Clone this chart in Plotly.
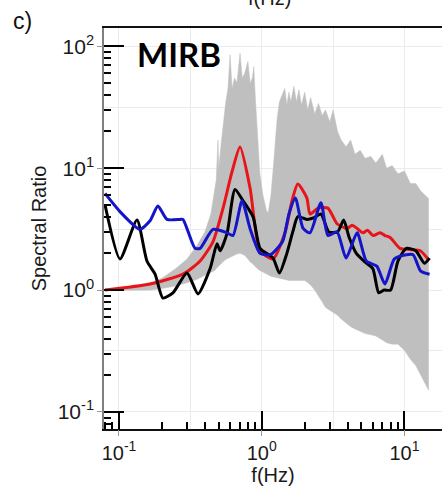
import plotly.graph_objects as go

# ---- data ----
red_f = [0.08, 0.165, 0.281, 0.37, 0.456, 0.536, 0.62, 0.705, 0.828, 0.973, 1.2, 1.46, 1.63, 1.79,
         2.07, 2.18, 2.48, 2.91, 3.37, 3.96, 4.3, 4.66, 5.13, 5.5, 6.03, 6.75, 7.3, 7.93, 9.31, 10.9, 12.9, 14.6]
red_y = [1.0, 1.12, 1.35, 1.73, 2.5, 4.7, 9.4, 14.9, 6.9, 2.1, 1.8, 3.0, 5.4, 7.4,
         5.7, 4.2, 4.7, 4.7, 3.5, 3.2, 3.4, 3.2, 2.95, 3.1, 2.8, 2.95, 2.8, 2.7, 2.2, 2.15, 2.1, 1.8]

black_f = [0.0798, 0.1016, 0.1337, 0.157, 0.179, 0.203, 0.239, 0.2995, 0.358, 0.435, 0.486, 0.511, 0.571,
           0.65, 0.74, 0.869, 0.973, 1.2, 1.33, 1.5, 1.65, 1.79, 2.07, 2.3, 2.6, 2.95, 3.4, 3.75, 4.1, 4.6,
           5.2, 6.0, 6.6, 7.2, 8.0, 9.0, 10.3, 12.0, 13.8, 15.0]
black_y = [5.0, 1.8, 3.75, 1.73, 1.35, 0.86, 0.95, 1.38, 0.93, 1.5, 2.4, 2.1, 2.9,
           6.7, 5.4, 4.0, 2.2, 1.83, 1.38, 2.0, 3.0, 4.0, 3.8, 3.9, 4.2, 3.0, 3.0, 3.75, 2.7, 2.0,
           1.73, 1.5, 0.95, 1.0, 1.0, 1.73, 2.2, 2.1, 1.66, 1.83]

blue_f = [0.0798, 0.1016, 0.140, 0.165, 0.1875, 0.217, 0.2676, 0.281, 0.341, 0.37, 0.456, 0.571, 0.629,
          0.728, 0.828, 0.973, 1.15, 1.4, 1.55, 1.72, 1.95, 2.18, 2.6, 2.91, 3.37, 3.9, 4.66, 5.4, 6.4,
          7.3, 8.5, 10.3, 11.5, 13.0, 15.0]
blue_y = [6.2, 4.4, 3.15, 3.7, 4.9, 3.8, 3.8, 3.8, 2.2, 2.2, 3.15, 2.95, 2.8,
          5.4, 3.2, 2.0, 1.95, 2.5, 4.2, 5.7, 3.2, 2.95, 5.2, 2.8, 3.0, 1.83, 2.95, 1.73, 1.57,
          1.12, 1.8, 1.95, 1.95, 1.43, 1.35]

# gray ensemble envelope (upper and lower bounds of the simulated ratios)
env_f = [0.08, 0.12, 0.165, 0.2, 0.25, 0.3, 0.35, 0.4, 0.44, 0.47, 0.48, 0.494, 0.50, 0.52, 0.54, 0.56,
         0.58, 0.60, 0.62, 0.645, 0.67, 0.705, 0.73, 0.76, 0.80, 0.83, 0.86, 0.88, 0.90, 0.93, 0.97,
         1.02, 1.08, 1.11, 1.16, 1.22, 1.28, 1.33, 1.39, 1.45, 1.5, 1.55, 1.6, 1.68, 1.75, 1.82, 1.9,
         2.0, 2.1, 2.2, 2.35, 2.5, 2.65, 2.8, 3.0, 3.16, 3.4, 3.6, 3.9, 4.2, 4.5, 4.9, 5.3, 5.8, 6.3,
         7.0, 7.5, 8.2, 9.0, 10.0, 11.0, 12.0, 13.0, 14.0, 14.8]
env_hi = [1.02, 1.06, 1.15, 1.25, 1.5, 1.8, 2.3, 3.0, 4.2, 6.5, 8, 17, 10, 16, 24, 35,
          45, 85, 45, 55, 50, 88, 55, 60, 75, 50, 55, 68, 40, 20, 9,
          6, 4.5, 4.3, 6, 12, 25, 35, 40, 45, 33, 42, 35, 47, 35, 44, 33,
          42, 30, 38, 28, 34, 27, 30, 24, 30, 20, 17, 15, 17, 13, 14, 12, 12.5, 11,
          13, 10, 10.5, 9, 9.5, 7.5, 7.5, 6.5, 6, 5.6]
env_lo = [0.99, 0.99, 1.0, 1.03, 1.08, 1.15, 1.22, 1.32, 1.4, 1.45, 1.5, 1.55, 1.6, 1.65, 1.72, 1.78,
          1.82, 1.85, 1.9, 1.95, 1.98, 2.0, 1.97, 1.93, 1.8, 1.7, 1.65, 1.6, 1.55, 1.5, 1.45,
          1.4, 1.35, 1.33, 1.3, 1.28, 1.26, 1.25, 1.23, 1.21, 1.2, 1.2, 1.2, 1.2, 1.2, 1.2, 1.2,
          1.2, 1.15, 1.1, 1.0, 0.9, 0.8, 0.72, 0.68, 0.65, 0.62, 0.58, 0.54, 0.5, 0.48, 0.46, 0.44, 0.43, 0.42,
          0.39, 0.37, 0.36, 0.36, 0.32, 0.27, 0.24, 0.2, 0.17, 0.15]

x_major = [0.1, 1, 10]
x_grid = [0.1, 0.316228, 1, 3.16228, 10]
x_grid_text = ["10<sup>-1</sup>", "", "10<sup>0</sup>", "", "10<sup>1</sup>"]
y_major = [0.1, 1, 10, 100]
y_grid = [0.1, 0.316228, 1, 3.16228, 10, 31.6228, 100]
y_grid_text = ["10<sup>-1</sup>", "", "10<sup>0</sup>", "", "10<sup>1</sup>", "", "10<sup>2</sup>"]

x_minor = [m * d for d in [0.01, 0.1, 1, 10] for m in range(2, 10)]
y_minor = [m * d for d in [0.01, 0.1, 1, 10, 100] for m in range(2, 10)]

XR = [-1.105, 1.263]
YR = [-1.14, 2.15]
FONT = "Liberation Sans, Arial, sans-serif"

fig = go.Figure()
fig.add_trace(go.Scatter(x=env_f, y=env_hi, mode="lines", line=dict(width=0.5, color="#c0c0c0"),
                         showlegend=False, hoverinfo="skip"))
fig.add_trace(go.Scatter(x=env_f, y=env_lo, mode="lines", line=dict(width=0.5, color="#c0c0c0"),
                         fill="tonexty", fillcolor="#bfbfbf", showlegend=False, hoverinfo="skip"))
fig.add_trace(go.Scatter(x=red_f, y=red_y, mode="lines", line=dict(color="#e8141a", width=3, shape="spline", smoothing=0.6),
                         showlegend=False))
fig.add_trace(go.Scatter(x=black_f, y=black_y, mode="lines", line=dict(color="#000000", width=3, shape="spline", smoothing=0.6),
                         showlegend=False))
fig.add_trace(go.Scatter(x=blue_f, y=blue_y, mode="lines", line=dict(color="#1414c8", width=3, shape="spline", smoothing=0.6),
                         showlegend=False))
# invisible anchors for overlay tick axes
for xa, ya in [("x2", "y"), ("x", "y2"), ("x3", "y"), ("x", "y3")]:
    fig.add_trace(go.Scatter(x=[1], y=[1], xaxis=xa, yaxis=ya, mode="markers",
                             marker=dict(opacity=0), showlegend=False, hoverinfo="skip"))

fig.update_layout(
    width=442, height=491,
    margin=dict(l=104, r=0, t=28, b=62),
    paper_bgcolor="white", plot_bgcolor="white",
    font=dict(family=FONT, size=20, color="#1a1a1a"),
    xaxis=dict(type="log", range=XR, showgrid=True, gridcolor="#ebebeb", gridwidth=1,
               tickvals=x_grid, ticktext=x_grid_text, ticklabelstandoff=5,
               ticks="", showline=True, linecolor="#111111", linewidth=1.5, mirror=True,
               zeroline=False, tickfont=dict(size=20),
               minor=dict(tickvals=x_minor, ticks="inside", ticklen=7, tickwidth=2, tickcolor="#000", showgrid=False),
               title=dict(text="f(Hz)", font=dict(size=20), standoff=0)),
    yaxis=dict(type="log", range=YR, showgrid=True, gridcolor="#ebebeb", gridwidth=1,
               tickvals=y_grid, ticktext=y_grid_text, ticklabelstandoff=4,
               ticks="", showline=True, linecolor="#7f7f7f", linewidth=1.5, mirror=False,
               zeroline=False, tickfont=dict(size=21),
               minor=dict(tickvals=y_minor, ticks="inside", ticklen=7, tickwidth=2, tickcolor="#000", showgrid=False),
               title=dict(text="Spectral Ratio", font=dict(size=20), standoff=6)),
    xaxis2=dict(type="log", range=XR, overlaying="x", anchor="y", side="bottom", showgrid=False,
                tickvals=x_major, ticks="inside", ticklen=18, tickwidth=2, tickcolor="#000",
                showticklabels=False, showline=False, zeroline=False),
    yaxis2=dict(type="log", range=YR, overlaying="y", anchor="x", side="left", showgrid=False,
                tickvals=y_major, ticks="inside", ticklen=20, tickwidth=2, tickcolor="#000",
                showticklabels=False, showline=False, zeroline=False),
    xaxis3=dict(type="log", range=XR, overlaying="x", anchor="y", side="bottom", showgrid=False,
                tickvals=x_major, ticks="outside", ticklen=6, tickwidth=1, tickcolor="#999",
                showticklabels=False, showline=False, zeroline=False),
    yaxis3=dict(type="log", range=YR, overlaying="y", anchor="x", side="left", showgrid=False,
                tickvals=y_major, ticks="outside", ticklen=6, tickwidth=1, tickcolor="#999",
                showticklabels=False, showline=False, zeroline=False),
    annotations=[
        dict(text="c)", xref="paper", yref="paper", x=-0.275, y=1.018, xanchor="left", yanchor="middle",
             showarrow=False, font=dict(family=FONT, size=23, color="#111")),
        dict(text="<b>MIRB</b>", xref="paper", yref="paper", x=0.092, y=0.934, xanchor="left", yanchor="middle",
             showarrow=False, font=dict(family="Lato, Open Sans, sans-serif", size=33, color="#000")),
        dict(text="f(Hz)", xref="paper", yref="paper", x=0.49, y=1.043, xanchor="center", yanchor="bottom",
             showarrow=False, font=dict(family=FONT, size=20, color="#1a1a1a")),
    ],
)

fig.write_html("out.html")
